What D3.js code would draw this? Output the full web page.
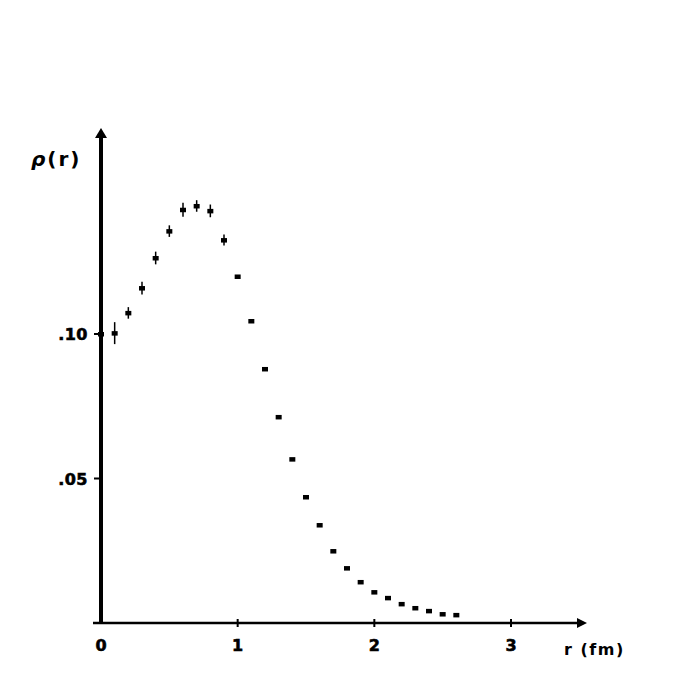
<!DOCTYPE html>
<html>
<head>
<meta charset="utf-8">
<script src="https://cdn.jsdelivr.net/npm/d3@7/dist/d3.min.js"></script>
<style>
  html, body { margin: 0; padding: 0; background: #fff; }
  svg text { font-family: "DejaVu Sans", Verdana, sans-serif; font-weight: bold; fill: #000; }
</style>
</head>
<body>
<div id="chart"></div>
<script>
// Charge density rho(r) vs r (fm)
const radius = [0, 0.1, 0.2, 0.3, 0.4, 0.5, 0.6, 0.7, 0.8, 0.9, 1.0, 1.1, 1.2, 1.3,
                1.4, 1.5, 1.6, 1.7, 1.8, 1.9, 2.0, 2.1, 2.2, 2.3, 2.4, 2.5, 2.6];
const density = [0.1000, 0.1003, 0.1073, 0.1159, 0.1263, 0.1356, 0.1430, 0.1443, 0.1426,
                 0.1325, 0.1199, 0.1045, 0.0879, 0.0713, 0.0567, 0.0436, 0.0339, 0.0249,
                 0.0190, 0.0142, 0.0107, 0.0087, 0.0066, 0.0052, 0.0042, 0.0031, 0.0028];
const errors = [0.0037, 0.0038, 0.0020, 0.0022, 0.0022, 0.0020, 0.0024, 0.0020, 0.0022,
                0.0019, 0, 0, 0, 0, 0, 0, 0, 0, 0, 0, 0, 0, 0, 0, 0, 0, 0];
const xTicks = [0, 1, 2, 3];
const xTickLabels = ['0', '1', '2', '3'];
const yTicks = [0.05, 0.10];
const yTickLabels = ['.05', '.10'];

const width = 692, height = 692;

const x = d3.scaleLinear().domain([0, 3]).range([101, 511]);
const y = d3.scaleLinear().domain([0, 0.1]).range([623, 334]);

const svg = d3.select('#chart').append('svg')
    .attr('width', width)
    .attr('height', height);

const pts = radius.map((r, i) => ({ r, v: density[i], e: errors[i] }));

// Axes lines
const xEnd = 580;
const yTop = 136;

svg.append('line')
    .attr('x1', x(0) - 8).attr('x2', xEnd)
    .attr('y1', y(0)).attr('y2', y(0))
    .attr('stroke', '#000').attr('stroke-width', 2.5);

svg.append('path')
    .attr('d', `M${xEnd + 7},${y(0)} L${xEnd - 3},${y(0) - 5} L${xEnd - 3},${y(0) + 5} Z`)
    .attr('fill', '#000');

svg.append('line')
    .attr('x1', x(0)).attr('x2', x(0))
    .attr('y1', y(0) + 1).attr('y2', yTop)
    .attr('stroke', '#000').attr('stroke-width', 4);

svg.append('path')
    .attr('d', `M${x(0)},${yTop - 8} L${x(0) - 6},${yTop + 2} L${x(0) + 6},${yTop + 2} Z`)
    .attr('fill', '#000');

// X ticks
svg.selectAll('line.xtick')
    .data(xTicks.filter(d => d > 0))
    .join('line')
    .attr('class', 'xtick')
    .attr('x1', d => x(d)).attr('x2', d => x(d))
    .attr('y1', y(0) - 4).attr('y2', y(0) + 4)
    .attr('stroke', '#000').attr('stroke-width', 2);

svg.selectAll('text.xlab')
    .data(xTicks)
    .join('text')
    .attr('class', 'xlab')
    .attr('x', d => x(d))
    .attr('y', 651)
    .attr('text-anchor', 'middle')
    .style('font-size', '16px')
    .style('stroke', '#000').style('stroke-width', 0.6)
    .text((d, i) => xTickLabels[i]);

// Y ticks
svg.selectAll('line.ytick')
    .data(yTicks)
    .join('line')
    .attr('class', 'ytick')
    .attr('x1', x(0) - 7).attr('x2', x(0))
    .attr('y1', d => y(d)).attr('y2', d => y(d))
    .attr('stroke', '#000').attr('stroke-width', 2);

svg.selectAll('text.ylab')
    .data(yTicks)
    .join('text')
    .attr('class', 'ylab')
    .attr('x', 88)
    .attr('y', d => y(d) + 6)
    .attr('text-anchor', 'end')
    .style('font-size', '16px')
    .style('letter-spacing', '0.5px')
    .style('stroke', '#000').style('stroke-width', 0.6)
    .text((d, i) => yTickLabels[i]);

// Axis titles
const yTitle = svg.append('text')
    .attr('x', 31).attr('y', 166)
    .style('font-size', '20px')
    .style('letter-spacing', '2px');
yTitle.append('tspan').style('font-style', 'italic').text('ρ');
yTitle.append('tspan').text('(r)');

svg.append('text')
    .attr('x', 564).attr('y', 655)
    .style('font-size', '16px')
    .style('letter-spacing', '1.5px')
    .text('r (fm)');

// Error bars
svg.selectAll('line.err')
    .data(pts.filter(d => d.e > 0))
    .join('line')
    .attr('class', 'err')
    .attr('x1', d => x(d.r)).attr('x2', d => x(d.r))
    .attr('y1', d => y(d.v - d.e)).attr('y2', d => y(d.v + d.e))
    .attr('stroke', '#000').attr('stroke-width', 1.5);

// Points
svg.selectAll('rect.pt')
    .data(pts)
    .join('rect')
    .attr('class', 'pt')
    .attr('x', d => x(d.r) - 3)
    .attr('y', d => y(d.v) - 2)
    .attr('width', 6)
    .attr('height', 4.5)
    .attr('fill', '#000');
</script>
</body>
</html>
